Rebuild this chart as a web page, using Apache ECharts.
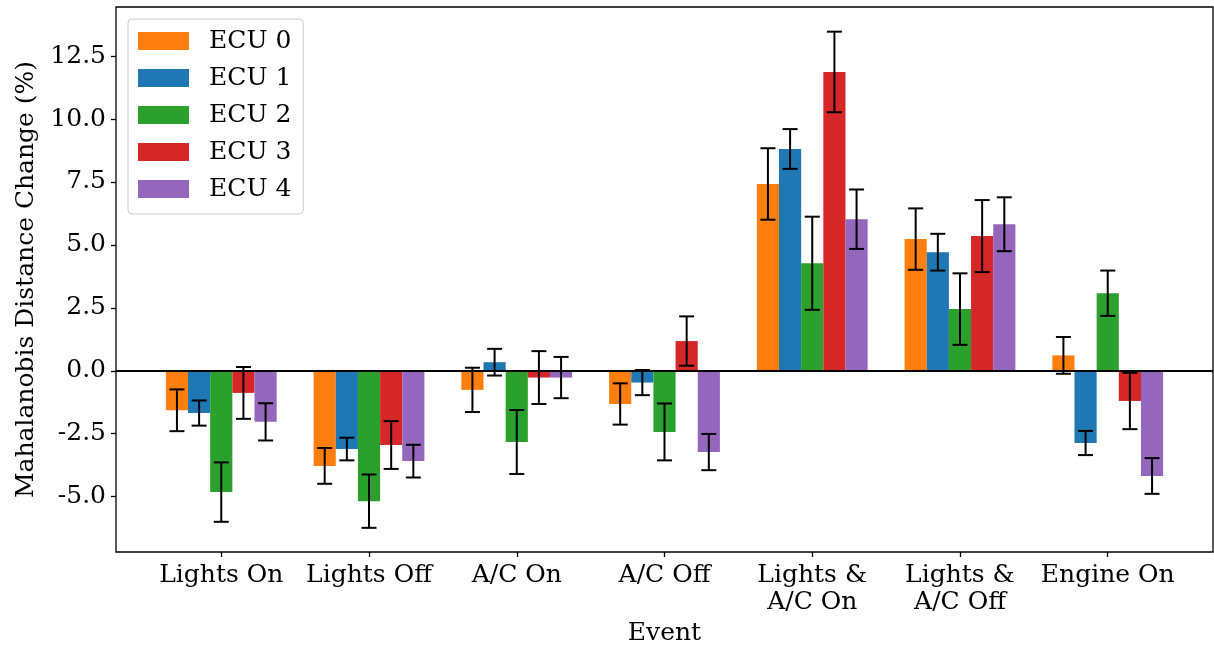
<!DOCTYPE html>
<html>
<head>
<meta charset="utf-8">
<script src="https://cdn.jsdelivr.net/npm/echarts@6/dist/echarts.min.js"></script>
<style>
  body { margin: 0; background: #fff; }
  #chart { width: 1214px; height: 648px; }
</style>
</head>
<body>
<div id="chart"></div>
<script>
  // categories / series
  var events = ['Lights On', 'Lights Off', 'A/C On', 'A/C Off', 'Lights &\nA/C On', 'Lights &\nA/C Off', 'Engine On'];
  var ecuNames = ['ECU 0', 'ECU 1', 'ECU 2', 'ECU 3', 'ECU 4'];
  var colors = ['#ff7f0e', '#1f77b4', '#2ca02c', '#d62728', '#9467bd'];

  // mean change (%) per ECU, one value per event
  var ecu0 = [-1.57, -3.78, -0.76, -1.32, 7.42, 5.23, 0.61];
  var ecu1 = [-1.68, -3.11, 0.34, -0.47, 8.81, 4.71, -2.87];
  var ecu2 = [-4.82, -5.18, -2.83, -2.43, 4.27, 2.45, 3.08];
  var ecu3 = [-0.88, -2.95, -0.27, 1.18, 11.87, 5.35, -1.20];
  var ecu4 = [-2.03, -3.59, -0.27, -3.23, 6.02, 5.82, -4.18];

  // error (half length of bar)
  var err0 = [0.83, 0.71, 0.88, 0.82, 1.42, 1.22, 0.73];
  var err1 = [0.50, 0.45, 0.53, 0.50, 0.79, 0.73, 0.48];
  var err2 = [1.18, 1.06, 1.27, 1.13, 1.85, 1.42, 0.90];
  var err3 = [1.03, 0.95, 1.05, 0.98, 1.60, 1.43, 1.12];
  var err4 = [0.74, 0.65, 0.82, 0.72, 1.18, 1.07, 0.71];

  var yTicks = [-5.0, -2.5, 0.0, 2.5, 5.0, 7.5, 10.0, 12.5];
  var xTicks = [0, 1, 2, 3, 4, 5, 6];

  var means = [ecu0, ecu1, ecu2, ecu3, ecu4];
  var errs = [err0, err1, err2, err3, err4];
  var barW = 0.15;

  var font = 'DejaVu Serif';
  var fs = 25;
  var chart = echarts.init(document.getElementById('chart'));

  function barRender(k) {
    return function (params, api) {
      var x = api.value(0) + (k - 2) * barW;
      var p1 = api.coord([x - barW / 2, api.value(1)]);
      var p2 = api.coord([x + barW / 2, 0]);
      return {
        type: 'rect',
        shape: {
          x: p1[0], y: Math.min(p1[1], p2[1]),
          width: p2[0] - p1[0], height: Math.abs(p2[1] - p1[1])
        },
        style: { fill: colors[k] }
      };
    };
  }

  function errRender(k) {
    return function (params, api) {
      var x = api.value(0) + (k - 2) * barW;
      var top = api.coord([x, api.value(1) + api.value(2)]);
      var bot = api.coord([x, api.value(1) - api.value(2)]);
      var cap = 7.5;
      var st = { stroke: '#000', lineWidth: 2 };
      return {
        type: 'group',
        children: [
          { type: 'line', shape: { x1: top[0], y1: top[1], x2: bot[0], y2: bot[1] }, style: st },
          { type: 'line', shape: { x1: top[0] - cap, y1: top[1], x2: top[0] + cap, y2: top[1] }, style: st },
          { type: 'line', shape: { x1: bot[0] - cap, y1: bot[1], x2: bot[0] + cap, y2: bot[1] }, style: st }
        ]
      };
    };
  }

  var series = [];
  for (var k = 0; k < 5; k++) {
    var d = means[k].map(function (v, i) { return [i, v, errs[k][i]]; });
    series.push({
      name: ecuNames[k],
      type: 'custom',
      renderItem: barRender(k),
      itemStyle: { color: colors[k] },
      encode: { x: 0, y: 1 },
      data: d,
      z: 2
    });
  }
  for (var k = 0; k < 5; k++) {
    var d = means[k].map(function (v, i) { return [i, v, errs[k][i]]; });
    series.push({
      name: 'err' + k,
      type: 'custom',
      renderItem: errRender(k),
      encode: { x: 0, y: 1 },
      data: d,
      z: 4
    });
  }
  // zero line
  series[5].markLine = {
    silent: true,
    symbol: ['none', 'none'],
    label: { show: false },
    lineStyle: { color: '#000', width: 2, type: 'solid' },
    data: [{ yAxis: 0 }],
    z: 5
  };

  var option = {
    animation: false,
    backgroundColor: '#fff',
    textStyle: { fontFamily: font },
    grid: {
      left: 116, right: 1, top: 7, bottom: 96,
      outerBoundsMode: 'none',
      show: true, borderColor: '#000', borderWidth: 1.3
    },
    legend: {
      orient: 'vertical',
      left: 128, top: 19,
      data: ecuNames,
      icon: 'rect',
      itemWidth: 51, itemHeight: 18,
      itemGap: 11,
      padding: [9, 12, 12, 10],
      backgroundColor: 'rgba(255,255,255,0.8)',
      borderColor: '#ccc', borderWidth: 1, borderRadius: 4,
      textStyle: { fontFamily: font, fontSize: fs, color: '#000', padding: [0, 0, 0, 15], lineHeight: 26 }
    },
    xAxis: {
      type: 'value',
      min: -0.7125, max: 6.7125,
      name: 'Event', nameLocation: 'middle', nameGap: 68,
      nameTextStyle: { fontFamily: font, fontSize: fs, color: '#000' },
      splitLine: { show: false },
      axisLine: { show: false, onZero: false },
      axisTick: { show: true, customValues: xTicks, length: 5, lineStyle: { color: '#000', width: 1.3 } },
      axisLabel: {
        customValues: xTicks,
        fontFamily: font, fontSize: fs, color: '#000', margin: 10, lineHeight: 27,
        formatter: function (v) { return events[Math.round(v)]; }
      }
    },
    yAxis: {
      type: 'value',
      min: -7.2, max: 14.45,
      name: 'Mahalanobis Distance Change (%)', nameLocation: 'middle', nameGap: 76,
      nameTextStyle: { fontFamily: font, fontSize: fs, color: '#000' },
      splitLine: { show: false },
      axisLine: { show: false, onZero: false },
      axisTick: { show: true, customValues: yTicks, length: 5, lineStyle: { color: '#000', width: 1.3 } },
      axisLabel: {
        customValues: yTicks,
        fontFamily: font, fontSize: fs, color: '#000', margin: 10,
        formatter: function (v) { return v.toFixed(1); }
      }
    },
    series: series
  };
  chart.setOption(option);
</script>
</body>
</html>
